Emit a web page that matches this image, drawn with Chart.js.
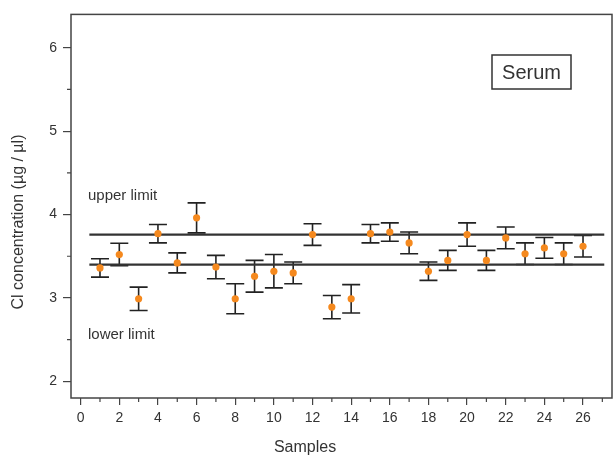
<!DOCTYPE html>
<html>
<head>
<meta charset="utf-8">
<script src="https://cdn.jsdelivr.net/npm/chart.js@4"></script>
<style>
  html, body { margin: 0; padding: 0; background: #fff; }
  #wrap { width: 616px; height: 468px; }
</style>
</head>
<body>
<div id="wrap"><canvas id="clChart" width="616" height="468"></canvas></div>
<script>
// data
const samples = [1, 2, 3, 4, 5, 6, 7, 8, 9, 10, 11, 12, 13, 14, 15, 16, 17, 18, 19, 20, 21, 22, 23, 24, 25, 26];
const concentration = [3.36, 3.52, 2.99, 3.77, 3.42, 3.96, 3.37, 2.99, 3.26, 3.32, 3.30, 3.76, 2.89,
  2.99, 3.77, 3.79, 3.66, 3.32, 3.45, 3.76, 3.45, 3.72, 3.53, 3.60, 3.53, 3.62];
const errors = [0.11, 0.135, 0.14, 0.11, 0.12, 0.18, 0.14, 0.18, 0.19, 0.2, 0.13, 0.13, 0.14,
  0.17, 0.11, 0.11, 0.13, 0.11, 0.12, 0.14, 0.12, 0.13, 0.13, 0.125, 0.13, 0.13];
const upperLimit = 3.76;
const lowerLimit = 3.40;
const limitSpan = [0.45, 27.1];
const xTicks = [0, 2, 4, 6, 8, 10, 12, 14, 16, 18, 20, 22, 24, 26];
const xMinorTicks = [1, 3, 5, 7, 9, 11, 13, 15, 17, 19, 21, 23, 25, 27];
const yTicks = [2, 3, 4, 5, 6];
const yMinorTicks = [2.5, 3.5, 4.5, 5.5];

const FONT = "'Liberation Sans', Arial, sans-serif";
const INK = "#333";

const errorBars = {
  id: "errorBars",
  beforeDatasetsDraw(chart) {
    const { ctx, scales: { x, y } } = chart;
    ctx.save();
    ctx.strokeStyle = "#222";
    ctx.lineWidth = 1.6;
    samples.forEach((s, i) => {
      const px = x.getPixelForValue(s);
      const top = y.getPixelForValue(concentration[i] + errors[i]);
      const bot = y.getPixelForValue(concentration[i] - errors[i]);
      ctx.beginPath();
      ctx.moveTo(px, top); ctx.lineTo(px, bot);
      ctx.moveTo(px - 9, top); ctx.lineTo(px + 9, top);
      ctx.moveTo(px - 9, bot); ctx.lineTo(px + 9, bot);
      ctx.stroke();
    });
    ctx.restore();
  }
};

const frameAndText = {
  id: "frameAndText",
  afterDraw(chart) {
    const { ctx, chartArea: a, scales: { x, y } } = chart;
    ctx.save();
    ctx.strokeStyle = "#444";
    ctx.lineWidth = 1.5;
    ctx.strokeRect(a.left, a.top, a.right - a.left, a.bottom - a.top);

    // minor ticks
    ctx.lineWidth = 1.2;
    ctx.beginPath();
    xMinorTicks.forEach(v => {
      const px = x.getPixelForValue(v);
      ctx.moveTo(px, a.bottom); ctx.lineTo(px, a.bottom + 4);
    });
    yMinorTicks.forEach(v => {
      const py = y.getPixelForValue(v);
      ctx.moveTo(a.left, py); ctx.lineTo(a.left - 4, py);
    });
    ctx.stroke();

    ctx.fillStyle = INK;
    ctx.font = "15px " + FONT;
    ctx.textBaseline = "middle";
    ctx.textAlign = "left";
    ctx.fillText("upper limit", 88, 196);
    ctx.fillText("lower limit", 88, 335);

    // Serum box
    ctx.lineWidth = 1.5;
    ctx.strokeStyle = "#333";
    ctx.strokeRect(492, 55, 79, 34);
    ctx.font = "20px " + FONT;
    ctx.textAlign = "center";
    ctx.fillText("Serum", 531.5, 73);

    // axis titles
    ctx.font = "16px " + FONT;
    ctx.fillText("Samples", 305, 448);
    ctx.translate(19, 222);
    ctx.rotate(-Math.PI / 2);
    ctx.fillText("Cl concentration (\u00b5g / \u00b5l)", 0, 0);
    ctx.restore();
  }
};

new Chart(document.getElementById("clChart").getContext("2d"), {
  type: "scatter",
  data: {
    datasets: [
      {
        label: "upper limit",
        type: "line",
        data: limitSpan.map(v => ({ x: v, y: upperLimit })),
        borderColor: "#333",
        borderWidth: 2.2,
        pointRadius: 0,
        order: 2
      },
      {
        label: "lower limit",
        type: "line",
        data: limitSpan.map(v => ({ x: v, y: lowerLimit })),
        borderColor: "#333",
        borderWidth: 2.2,
        pointRadius: 0,
        order: 2
      },
      {
        label: "Cl",
        data: samples.map((s, i) => ({ x: s, y: concentration[i] })),
        backgroundColor: "#f5891e",
        borderWidth: 0,
        pointRadius: 3.6,
        order: 1
      }
    ]
  },
  options: {
    responsive: false,
    animation: false,
    layout: { padding: { top: 9, right: 3, left: 0, bottom: 0 } },
    plugins: {
      legend: { display: false },
      tooltip: { enabled: false }
    },
    scales: {
      x: {
        type: "linear",
        min: -0.5,
        max: 27.5,
        afterFit: s => { s.height = 70; },
        afterBuildTicks: s => { s.ticks = xTicks.map(v => ({ value: v })); },
        grid: { drawOnChartArea: false, tickLength: 7, color: "#444", lineWidth: 1.2 },
        border: { display: false },
        ticks: { color: INK, font: { family: FONT, size: 14 }, padding: 5, maxRotation: 0, autoSkip: false }
      },
      y: {
        min: 1.8,
        max: 6.4,
        afterFit: s => { s.width = 71; },
        afterBuildTicks: s => { s.ticks = yTicks.map(v => ({ value: v })); },
        grid: { drawOnChartArea: false, tickLength: 8, color: "#444", lineWidth: 1.2 },
        border: { display: false },
        ticks: { color: INK, font: { family: FONT, size: 14 }, padding: 6 }
      }
    }
  },
  plugins: [errorBars, frameAndText]
});
</script>
</body>
</html>
